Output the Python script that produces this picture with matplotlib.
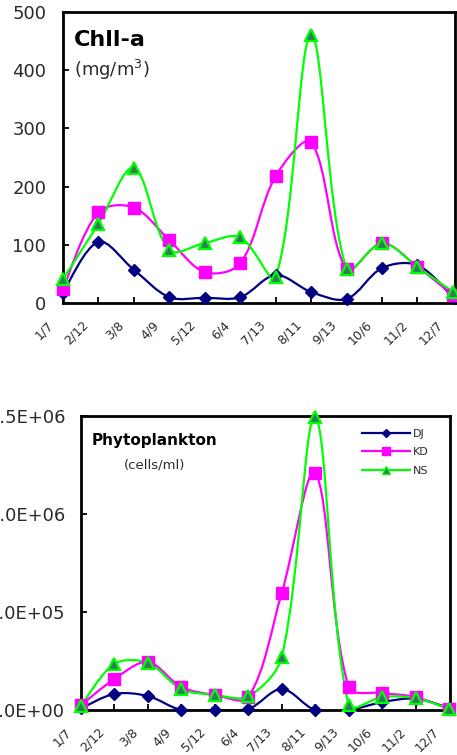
import numpy as np
import matplotlib
matplotlib.use("Agg")
import matplotlib.pyplot as plt
from matplotlib.path import Path
from matplotlib.patches import PathPatch
from matplotlib.lines import Line2D
from matplotlib.transforms import ScaledTranslation

# --------------------------

dates = ["1/7", "2/12", "3/8", "4/9", "5/12", "6/4", "7/13", "8/11", "9/13", "10/6", "11/2", "12/7"]

chl_dj = [18, 105, 57, 10, 9, 10, 48, 19, 7, 60, 65, 10]
chl_kd = [24, 156, 164, 108, 53, 68, 218, 276, 58, 103, 62, 14]
chl_ns = [41, 136, 232, 91, 103, 113, 45, 461, 58, 103, 62, 19]

phy_dj = [8e3, 82e3, 71e3, 0, 0, 5e3, 107e3, 0, 0, 40e3, 58e3, 10e3]
phy_kd = [25e3, 158e3, 245e3, 117e3, 77e3, 65e3, 597e3, 1.21e6, 117e3, 87e3, 66e3, 5e3]
phy_ns = [20e3, 235e3, 240e3, 107e3, 77e3, 70e3, 270e3, 1.495e6, 25e3, 66e3, 61e3, 5e3]

chl_ticks = [0, 100, 200, 300, 400, 500]
phy_ticks = [0, 5e5, 1e6, 1.5e6]
phy_ticklabels = ["0.0E+00", "5.0E+05", "1.0E+06", "1.5E+06"]

series = [
    ("DJ", dict(color="#000080", marker="D", ms=6.5, mfc="#000080", mec="#000080", mew=1)),
    ("KD", dict(color="#ff00ff", marker="s", ms=9, mfc="#ff00ff", mec="#ff00ff", mew=1)),
    ("NS", dict(color="#00ff00", marker="^", ms=9, mfc="#2e7d5b", mec="#00ff00", mew=1.6)),
]

TXT = "#2a2a2a"


def smooth_path(x, y, sx, sy):
    # excel-like smoothing, tangents weighted by segment length on screen
    x = np.asarray(x, float)
    y = np.asarray(y, float)
    n = len(x)
    d = np.hypot(np.diff(x) * sx, np.diff(y) * sy)
    verts = [(x[0], y[0])]
    codes = [Path.MOVETO]
    for i in range(n - 1):
        if i == 0:
            t1 = np.array([x[1] - x[0], y[1] - y[0]]) * 0.5
        else:
            t1 = np.array([x[i + 1] - x[i - 1], y[i + 1] - y[i - 1]]) * d[i] / (d[i - 1] + d[i])
        if i + 1 == n - 1:
            t2 = np.array([x[i + 1] - x[i], y[i + 1] - y[i]]) * 0.5
        else:
            t2 = np.array([x[i + 2] - x[i], y[i + 2] - y[i]]) * d[i] / (d[i] + d[i + 1])
        c1 = (x[i] + t1[0] / 3, y[i] + t1[1] / 3)
        c2 = (x[i + 1] - t2[0] / 3, y[i + 1] - t2[1] / 3)
        verts += [c1, c2, (x[i + 1], y[i + 1])]
        codes += [Path.CURVE4] * 3
    return Path(verts, codes)


def draw_panel(ax, values, xmax, ymax, wpx, hpx):
    x = np.arange(len(dates))
    for (name, st), y in zip(series, values):
        p = smooth_path(x, y, wpx / xmax, hpx / ymax)
        ax.add_patch(PathPatch(p, fill=False, ec=st["color"], lw=1.6, zorder=2))
        ax.plot(x, y, linestyle="none", marker=st["marker"], ms=st["ms"], mfc=st["mfc"],
                mec=st["mec"], mew=st["mew"], clip_on=False, zorder=3)
    ax.set_xlim(0, xmax)
    ax.set_ylim(0, ymax)
    ax.set_xticks(x)
    ax.set_xticklabels([])
    ax.tick_params(axis="both", direction="in", length=4.5, width=1.3, colors="black")
    ax.tick_params(axis="y", labelsize=13, labelcolor=TXT)
    for s in ax.spines.values():
        s.set_linewidth(2)
    off = ScaledTranslation(-0.12, -0.20, ax.figure.dpi_scale_trans)
    for i, lab in enumerate(dates):
        ax.text(i, 0, lab, transform=ax.get_xaxis_transform() + off, rotation=45,
                rotation_mode="anchor", ha="right", va="center", fontsize=9, color=TXT)


fig = plt.figure(figsize=(4.57, 7.55), dpi=100)

ax1 = fig.add_axes([63 / 457, 1 - 303 / 755, 392 / 457, 291 / 755])
draw_panel(ax1, [chl_dj, chl_kd, chl_ns], 11.06, 500, 392, 291)
ax1.set_yticks(chl_ticks)
ax1.tick_params(axis="y", pad=12)
ax1.text(0.027, 0.905, "Chll-a", transform=ax1.transAxes, fontsize=16, fontweight="bold",
         color="black", va="center")
ax1.text(0.027, 0.80, "(mg/m$^3$)", transform=ax1.transAxes, fontsize=13, color=TXT, va="center")

ax2 = fig.add_axes([81 / 457, 1 - 710 / 755, 369 / 457, 294 / 755])
draw_panel(ax2, [phy_dj, phy_kd, phy_ns], 11.03, 1.5e6, 369, 294)
ax2.set_yticks(phy_ticks)
ax2.set_yticklabels(phy_ticklabels)
ax2.tick_params(axis="y", pad=11.5)
ax2.text(0.03, 0.915, "Phytoplankton", transform=ax2.transAxes, fontsize=11, fontweight="bold",
         color="black", va="center")
ax2.text(0.117, 0.835, "(cells/ml)", transform=ax2.transAxes, fontsize=9.5, color=TXT, va="center")

handles = []
for name, st in series:
    handles.append(Line2D([], [], color=st["color"], lw=1.6, marker=st["marker"],
                          ms=st["ms"] * 0.65, mfc=st["mfc"], mec=st["mec"], mew=1))
leg = ax2.legend(handles, [s[0] for s in series], loc="upper left",
                 bbox_to_anchor=((362 - 81) / 369, (710 - 429) / 294), frameon=False,
                 fontsize=8, handlelength=4.3, handletextpad=0.3, labelspacing=0.75,
                 borderpad=0, borderaxespad=0)
for t in leg.get_texts():
    t.set_color(TXT)

plt.savefig("out.png", dpi=100)
plt.close()
